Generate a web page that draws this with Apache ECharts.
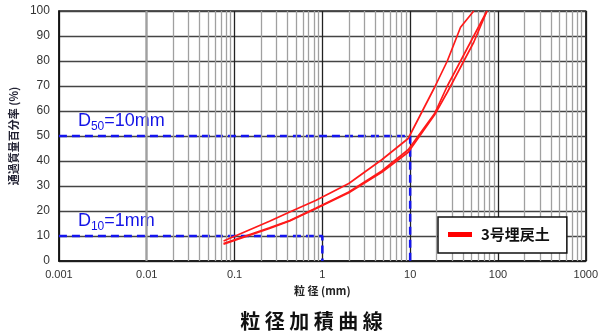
<!DOCTYPE html>
<html><head><meta charset="utf-8">
<script src="https://cdn.jsdelivr.net/npm/echarts@6/dist/echarts.min.js"></script>
<style>html,body{margin:0;padding:0;background:#fff}#c{width:601px;height:335px}</style>
</head><body><div id="c"></div>
<script>
// ---- data ----
const sieveSizes = [0.075, 0.25, 0.425, 0.85, 2, 4.75, 9.5, 19, 26.5, 37.5, 53, 75];
const passA = [8, 15.9, 19.6, 24.3, 31, 40.5, 49, 69.5, 80, 93.5, 100, null];
const passB = [7, 13.3, 16.2, 21.2, 27.6, 36, 44.5, 59, 70, 80, 90, 100];
const passC = [6.7, 13, 16, 21, 27.3, 35.5, 43.5, 58.5, 67.5, 77.5, 87.5, 100];
const xTickLabels = ['0.001', '0.01', '0.1', '1', '10', '100', '1000'];
const seriesName = '3号埋戻土';
const d50Size = 10, d50Pass = 50;
const d10Size = 1, d10Pass = 10;
const xMin = 0.001, xMax = 1000;
const chartTitle = '粒径加積曲線';
const xName = '粒 径 (mm)';
const yName = '通過質量百分率 (%)';

const NUM = '"Liberation Sans", Arial, sans-serif';
const CJK = '"Noto Sans CJK JP", "Noto Sans", sans-serif';

function curve(vals) {
  return sieveSizes.map((s, i) => [s, vals[i]]).filter(p => p[1] != null);
}
// minor log gridlines (2..9 in each decade)
const minorLines = [];
for (let e = -3; e < 3; e++) {
  for (let m = 2; m <= 9; m++) minorLines.push({ xAxis: +(m * Math.pow(10, e)).toPrecision(3) });
}
const dLabelRich = {
  m: { fontSize: 18, lineHeight: 24, color: '#1414e6', fontFamily: NUM },
  s: { fontSize: 12, lineHeight: 13, verticalAlign: 'bottom', color: '#1414e6', fontFamily: NUM }
};
function dLine(size, pass, sub) {
  return {
    type: 'line', silent: true, z: 4,
    symbol: 'circle', symbolSize: 0.01, showSymbol: true,
    lineStyle: { color: '#1414ee', width: 2.5, type: [8, 5] },
    itemStyle: { color: '#1414ee' },
    emphasis: { disabled: true },
    label: { show: false },
    data: [
      { value: [xMin, pass], label: { show: true, position: [19, -27], formatter: '{m|D}{s|' + sub + '}{m|=' + size + 'mm}', rich: dLabelRich } },
      [size, pass], [size, 0]
    ]
  };
}
function redSeries(vals) {
  return {
    name: seriesName, type: 'line', data: curve(vals), symbol: 'none', z: 5,
    lineStyle: { color: '#ff1a1a', width: 1.7 }, itemStyle: { color: '#ff0000' },
    emphasis: { disabled: true }
  };
}

const chart = echarts.init(document.getElementById('c'));
chart.setOption({
  animation: false,
  backgroundColor: '#fff',
  title: {
    text: chartTitle.split('').map(c => '{c|' + c + '}').join(''),
    left: 233, top: 306,
    textStyle: { rich: { c: { width: 24.5, align: 'center', fontSize: 20, fontWeight: 'bold', color: '#111', fontFamily: CJK } } }
  },
  grid: { left: 57, right: 11, top: 11, bottom: 74, show: true, borderColor: '#222', borderWidth: 1.3, backgroundColor: 'transparent' },
  legend: {
    data: [seriesName], left: 438, top: 217, z: 10,
    backgroundColor: '#fff', borderColor: '#111', borderWidth: 1.5, borderRadius: 0,
    padding: [10, 17, 11, 10],
    icon: 'rect', itemWidth: 24, itemHeight: 5,
    textStyle: { fontSize: 15, fontWeight: 'bold', color: '#111', fontFamily: CJK, padding: [0, 0, 0, 4] }
  },
  xAxis: {
    type: 'log', logBase: 10, min: xMin, max: xMax, splitNumber: 6,
    name: xName, nameLocation: 'middle', nameGap: 24,
    nameTextStyle: { fontSize: 11, fontWeight: 'bold', color: '#222', fontFamily: CJK },
    axisLine: { show: true, onZero: false, lineStyle: { color: '#111', width: 1.5 } },
    axisTick: { show: false },
    axisLabel: {
      fontSize: 11, color: '#333', margin: 8, fontFamily: NUM,
      formatter: v => xTickLabels[Math.round(Math.log10(v)) + 3] || ''
    },
    splitLine: { show: true, lineStyle: { color: '#222', width: 1.3 } }
  },
  yAxis: {
    type: 'value', min: 0, max: 100, interval: 10,
    name: yName, nameLocation: 'middle', nameRotate: 90, nameGap: 32,
    nameTextStyle: { fontSize: 11, fontWeight: 'bold', color: '#223', fontFamily: CJK },
    axisLine: { show: true, lineStyle: { color: '#111', width: 1.5 } },
    axisTick: { show: false },
    axisLabel: { fontSize: 12, color: '#333', margin: 9, fontFamily: NUM },
    splitLine: { show: true, lineStyle: { color: '#444', width: 1.3 } }
  },
  series: [
    {
      type: 'line', data: [], silent: true, z: 1,
      markLine: {
        silent: true, symbol: ['none', 'none'], label: { show: false },
        lineStyle: { color: '#a0a0a0', width: 1.3, type: 'solid' },
        emphasis: { disabled: true },
        data: minorLines
      }
    },
    dLine(d50Size, d50Pass, '50'),
    dLine(d10Size, d10Pass, '10'),
    redSeries(passA),
    redSeries(passB),
    redSeries(passC)
  ]
});
</script>
</body></html>
